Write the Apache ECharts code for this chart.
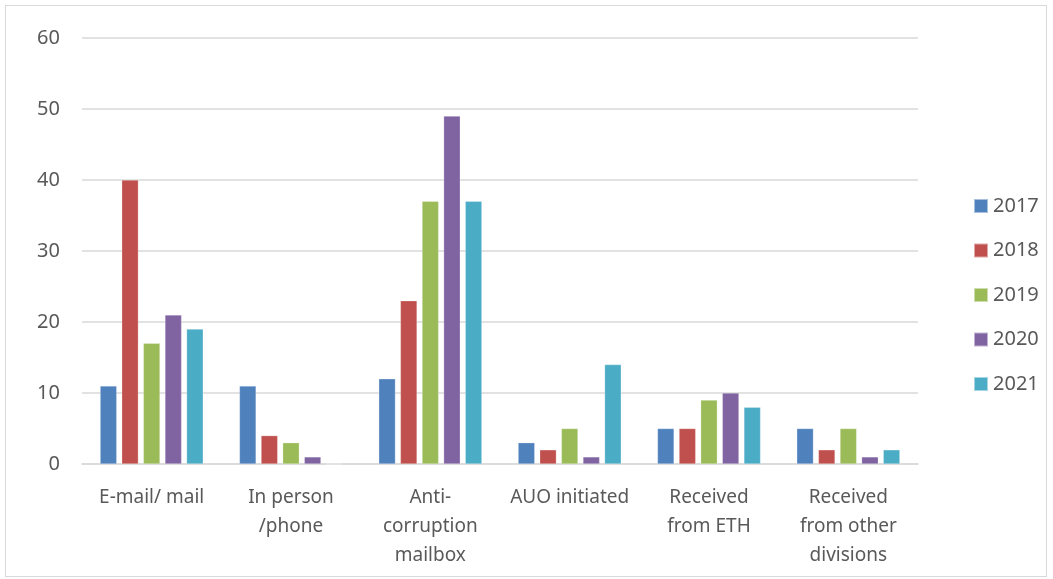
<!DOCTYPE html>
<html>
<head>
<meta charset="utf-8">
<script src="https://cdn.jsdelivr.net/npm/echarts@6/dist/echarts.min.js"></script>
<style>
  html, body { margin: 0; padding: 0; background: #fff; }
  #frame { position: absolute; left: 5px; top: 5px; width: 1042px; height: 572px; border: 1px solid #d9d9d9; box-sizing: border-box; }
  #chart { width: 1053px; height: 579px; }
</style>
</head>
<body>
<div id="frame"></div>
<div id="chart"></div>
<script>
// categories (line breaks as in the original)
const categories = [
  "E-mail/ mail",
  "In person\n/phone",
  "Anti-\ncorruption\nmailbox",
  "AUO initiated",
  "Received\nfrom ETH",
  "Received\nfrom other\ndivisions"
];
const years = ["2017", "2018", "2019", "2020", "2021"];
const colors = ["#4F81BD", "#C0504D", "#9BBB59", "#8064A2", "#4BACC6"];

// values per year, one per category
const v2017 = [11, 11, 12, 3, 5, 5];
const v2018 = [40, 4, 23, 2, 5, 2];
const v2019 = [17, 3, 37, 5, 9, 5];
const v2020 = [21, 1, 49, 1, 10, 1];
const v2021 = [19, 0, 37, 14, 8, 2];
const values = [v2017, v2018, v2019, v2020, v2021];

const font = "Noto Sans";
const chart = echarts.init(document.getElementById("chart"), null, { renderer: "canvas" });

chart.setOption({
  animation: false,
  color: colors,
  grid: { left: 82, right: 135, top: 38, bottom: 115, containLabel: false },
  legend: {
    orient: "vertical",
    left: 968,
    top: 191,
    itemWidth: 14,
    itemHeight: 14,
    itemGap: 24.5,
    icon: "rect",
    textStyle: { color: "#595959", fontSize: 20, fontFamily: font },
    data: years
  },
  xAxis: {
    type: "category",
    data: categories,
    axisLine: { lineStyle: { color: "#d9d9d9", width: 1.5 } },
    axisTick: { show: false },
    axisLabel: {
      color: "#595959",
      fontSize: 19,
      fontFamily: font,
      lineHeight: 29,
      margin: 19,
      interval: 0
    }
  },
  yAxis: {
    type: "value",
    min: 0,
    max: 60,
    interval: 10,
    axisLine: { show: false },
    axisTick: { show: false },
    splitLine: { lineStyle: { color: "#d9d9d9", width: 1.5 } },
    axisLabel: { color: "#595959", fontSize: 20, fontFamily: font, margin: 22 }
  },
  series: years.map((y, i) => ({
    name: y,
    type: "bar",
    data: values[i],
    barGap: "30%",
    barCategoryGap: "26%",
    itemStyle: { color: colors[i], borderColor: "rgba(255,255,255,0.5)", borderWidth: 0.5 }
  }))
});
</script>
</body>
</html>
